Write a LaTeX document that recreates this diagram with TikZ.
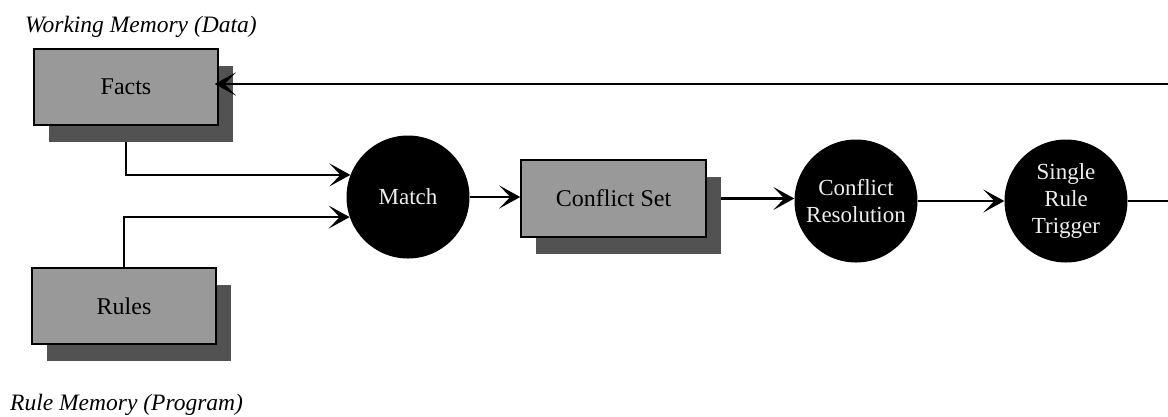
\documentclass[tikz,border=0pt]{standalone}
\usepackage{fontspec}
\setmainfont{Liberation Serif}
\usetikzlibrary{arrows.meta,shadows,calc}
\pgfdeclarelayer{paper}
\pgfdeclarelayer{background}
\pgfsetlayers{paper,background,main}
\definecolor{boxgray}{gray}{0.60}
\definecolor{shadowgray}{gray}{0.32}
\definecolor{circtext}{gray}{0.93}
\tikzset{
  memlabel/.style={anchor=base west, inner sep=0pt, font=\fontsize{23.5}{26}\selectfont\itshape},
  graybox/.style={draw=black, line width=1.5pt, fill=boxgray, minimum width=184pt, minimum height=76pt,
     inner sep=0pt, font=\fontsize{24}{27}\selectfont,
     general shadow={fill=shadowgray, shadow xshift=15pt, shadow yshift=-17pt}},
  blackcirc/.style={circle, fill=black, minimum size=123pt, inner sep=0pt, text=circtext,
     align=center, font=\fontsize{23}{27}\selectfont},
  conn/.style={line width=2.2pt, -{Stealth[length=21pt, width=23pt, inset=11pt]}},
}
\begin{document}
\begin{tikzpicture}[x=1pt, y=-1pt]
\useasboundingbox (0,0) rectangle (1168,416);
\begin{pgfonlayer}{paper}
\fill[white] (0,0) rectangle (1168,416);
\end{pgfonlayer}

\node[memlabel] (wmlabel) at (25,32) {Working Memory (Data)};
\node[memlabel] (rmlabel) at (10,410) {Rule Memory (Program)};

\node[graybox] (facts) at (126,87) {Facts};
\node[graybox] (rules) at (124,306) {Rules};
\node[blackcirc] (match) at (408,197) {Match};
\node[graybox, minimum width=185pt, minimum height=77pt] (cs) at (613.5,198.5) {Conflict Set};
\node[blackcirc] (cr) at (856,201) {Conflict\\Resolution};
\node[blackcirc] (trig) at (1066,201) {Single\\Rule\\Trigger};
\coordinate (ret) at (1185,84);

\begin{pgfonlayer}{background}
\draw[conn] (facts.south) |- (match.159);
\draw[conn] (rules.north) |- (match.199);
\draw[conn] (cs.east) -- (cs.east -| cr.west);
\end{pgfonlayer}
\draw[conn] (match.east) -- (match.east -| cs.west);
\draw[conn] (cr.east) -- (trig.west);
\draw[conn, shorten >=-4pt] (trig.east) -| (ret) -- (ret -| facts.east);
\end{tikzpicture}
\end{document}
